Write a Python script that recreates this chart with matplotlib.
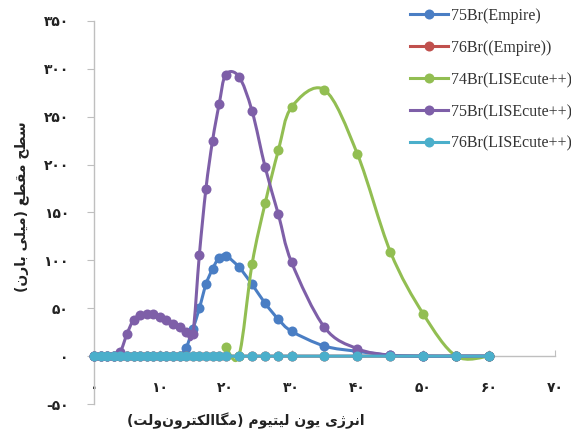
import numpy as np
import matplotlib
matplotlib.use("Agg")
import matplotlib.pyplot as plt
from matplotlib.path import Path
from matplotlib.patches import PathPatch
from matplotlib.lines import Line2D

# ---------------- data ----------------
grid_x = list(range(0, 21)) + [22, 24, 26, 28, 30, 35, 40, 45, 50, 55, 60]

br75_empire_x = grid_x
br75_empire_y = [0, 0, 0, 0, 0, 0, 0, 0, 0, 0, 0, 0, 0, 0, 9, 28, 50, 75, 91, 103, 105,
                 93, 75, 55, 38.5, 26, 10.5, 5, 1, 0, 0, 0]

br76_empire_x = grid_x
br76_empire_y = [0] * len(grid_x)

br74_lise_x = [20, 22, 24, 26, 28, 30, 35, 40, 45, 50, 55, 60]
br74_lise_y = [10, 0, 96, 160, 215, 260, 278, 211, 109, 44, 0, 0]

br75_lise_x = grid_x
br75_lise_y = [0, 0, 0, 0, 4.5, 23, 38, 42.6, 44, 43.5, 41, 37.5, 34, 30, 25.5, 22.7, 106, 175, 225, 263, 294,
               292, 256, 197, 148, 98, 30, 7.7, 1, 0, 0, 0]

br76_lise_x = grid_x
br76_lise_y = [0] * len(grid_x)

series_names = ["75Br(Empire)", "76Br((Empire))", "74Br(LISEcute++)", "75Br(LISEcute++)", "76Br(LISEcute++)"]
series_colors = ["#4A7EC4", "#C0504D", "#92BE52", "#7E5FA8", "#4BAFCB"]

x_tick_values = [0, 10, 20, 30, 40, 50, 60, 70]
y_tick_values = [-50, 0, 50, 100, 150, 200, 250, 300, 350]

x_label_text = "انرژی یون لیتیوم (مگاالکترون\u200cولت)"
y_label_text = "سطح مقطع (میلی بارن)"

# ---------------- Persian shaping ----------------
FORMS = {
    'ا': ('\uFE8D', '\uFE8E', None, None),
    'ب': ('\uFE8F', '\uFE90', '\uFE91', '\uFE92'),
    'ت': ('\uFE95', '\uFE96', '\uFE97', '\uFE98'),
    'ح': ('\uFEA1', '\uFEA2', '\uFEA3', '\uFEA4'),
    'ر': ('\uFEAD', '\uFEAE', None, None),
    'ژ': ('\uFB8A', '\uFB8B', None, None),
    'س': ('\uFEB1', '\uFEB2', '\uFEB3', '\uFEB4'),
    'ط': ('\uFEC1', '\uFEC2', '\uFEC3', '\uFEC4'),
    'ع': ('\uFEC9', '\uFECA', '\uFECB', '\uFECC'),
    'ق': ('\uFED5', '\uFED6', '\uFED7', '\uFED8'),
    'ک': ('\uFB8E', '\uFB8F', '\uFB90', '\uFB91'),
    'گ': ('\uFB92', '\uFB93', '\uFB94', '\uFB95'),
    'ل': ('\uFEDD', '\uFEDE', '\uFEDF', '\uFEE0'),
    'م': ('\uFEE1', '\uFEE2', '\uFEE3', '\uFEE4'),
    'ن': ('\uFEE5', '\uFEE6', '\uFEE7', '\uFEE8'),
    'و': ('\uFEED', '\uFEEE', None, None),
    'ی': ('\uFBFC', '\uFBFD', '\uFBFE', '\uFBFF'),
}


def shape(s):
    out = []
    n = len(s)
    for i, c in enumerate(s):
        if c not in FORMS:
            if c == '\u200c':
                continue
            out.append(c)
            continue
        f = FORMS[c]
        prev = s[i - 1] if i > 0 else ''
        nxt = s[i + 1] if i + 1 < n else ''
        jp = prev in FORMS and FORMS[prev][2] is not None
        jn = f[2] is not None and nxt in FORMS
        if jp and jn:
            g = f[3]
        elif jp:
            g = f[1]
        elif jn:
            g = f[2]
        else:
            g = f[0]
        out.append(g)
    vis = ''.join(reversed(out))
    return vis.translate(str.maketrans('()', ')('))


def fa_num(v):
    return str(v).translate(str.maketrans('0123456789', '۰۱۲۳۴۵۶۷۸۹'))


def smooth_path(x, y):
    pts = np.column_stack([x, y]).astype(float)
    n = len(pts)
    verts = [pts[0]]
    codes = [Path.MOVETO]
    for i in range(n - 1):
        p0 = pts[i - 1] if i > 0 else pts[i]
        p1 = pts[i]
        p2 = pts[i + 1]
        p3 = pts[i + 2] if i + 2 < n else pts[i + 1]
        c1 = p1 + (p2 - p0) / 6.0
        c2 = p2 - (p3 - p1) / 6.0
        verts += [c1, c2, p2]
        codes += [Path.CURVE4] * 3
    return Path(verts, codes)


# ---------------- figure ----------------
fig = plt.figure(figsize=(5.71, 4.36), dpi=100)
ax = fig.add_axes([94 / 571, 32 / 436, 461 / 571, 383 / 436])
ax.set_xlim(0, 70)
ax.set_ylim(-50, 350)

axis_gray = "#BFBFBF"
for sp in ["top", "right"]:
    ax.spines[sp].set_visible(False)
ax.spines["left"].set_color(axis_gray)
ax.spines["left"].set_linewidth(1.0)
ax.spines["bottom"].set_position(("data", 0))
ax.spines["bottom"].set_color(axis_gray)
ax.spines["bottom"].set_linewidth(1.0)

ax.set_xticks(x_tick_values)
ax.set_xticklabels([fa_num(v) for v in x_tick_values])
ax.set_yticks(y_tick_values)
ax.set_yticklabels([fa_num(v) for v in y_tick_values])
ax.tick_params(axis="x", direction="in", length=4, color=axis_gray, pad=18,
               labelsize=10, labelcolor="#222222")
ax.tick_params(axis="y", direction="out", length=5, color=axis_gray, pad=13,
               labelsize=10, labelcolor="#222222")
for lab in ax.get_xticklabels() + ax.get_yticklabels():
    lab.set_fontfamily("DejaVu Sans")
    lab.set_fontweight("bold")

all_series = [
    (br75_empire_x, br75_empire_y),
    (br76_empire_x, br76_empire_y),
    (br74_lise_x, br74_lise_y),
    (br75_lise_x, br75_lise_y),
    (br76_lise_x, br76_lise_y),
]

lw = 2.2
ms = 7.2
handles = []
for k, ((xs, ys), name, col) in enumerate(zip(all_series, series_names, series_colors)):
    patch = PathPatch(smooth_path(xs, ys), facecolor="none", edgecolor=col, lw=lw,
                      zorder=3 + 2 * k, clip_on=False, capstyle="round", joinstyle="round")
    ax.add_patch(patch)
    ax.plot(xs, ys, linestyle="none", marker="o", markersize=ms, color=col,
            markeredgewidth=0, zorder=4 + 2 * k, clip_on=False)
    handles.append(Line2D([], [], color=col, lw=lw, marker="o", markersize=ms,
                          markeredgewidth=0, label=name))

leg = fig.legend(handles=handles, loc="upper left", bbox_to_anchor=(410 / 571, 1 - 8 / 436),
                 frameon=False, prop={"family": "Liberation Serif", "size": 11.5},
                 handlelength=2.4, handletextpad=0.15, labelspacing=1.0, borderpad=0,
                 borderaxespad=0)
for t in leg.get_texts():
    t.set_color("#333333")

fig.text(246 / 571, 1 - 421 / 436, shape(x_label_text), ha="center", va="center",
         fontsize=10, fontweight="bold", family="DejaVu Sans", color="#222222")
fig.text(22 / 571, 1 - 207 / 436, shape(y_label_text), ha="center", va="center",
         rotation=90, fontsize=10, fontweight="bold", family="DejaVu Sans", color="#222222")

fig.savefig("out.png", dpi=100)
